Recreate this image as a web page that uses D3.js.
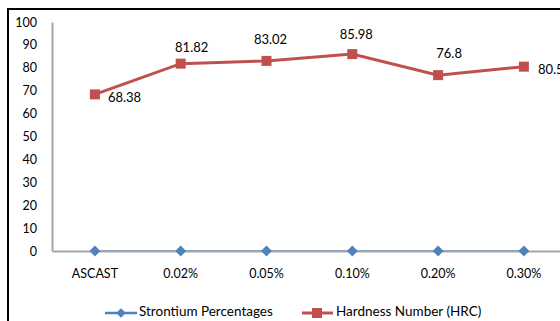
<!DOCTYPE html>
<html><head><meta charset="utf-8">
<script src="https://cdn.jsdelivr.net/npm/d3@7"></script>
<style>
html,body{margin:0;padding:0;background:#fff;}
svg{display:block;font-family:Lato, "Noto Sans", sans-serif;}
</style></head>
<body><svg id="c" width="560" height="321"></svg>
<script>
const categories = ["ASCAST","0.02%","0.05%","0.10%","0.20%","0.30%"];
const strontium = [0,0,0,0,0,0];
const hardness = [68.38,81.82,83.02,85.98,76.8,80.5];
const hardnessLabels = ["68.38","81.82","83.02","85.98","76.8","80.5"];
const yTicks = [0,10,20,30,40,50,60,70,80,90,100];
const seriesNames = ["Strontium Percentages","Hardness Number (HRC)"];

// label placement style: [dx, dy] relative to point
const labelOffsets = [[13,4],[11,-15],[4,-20],[4,-18],[11,-20],[14,4]];

const svg = d3.select("#c");
const blue = "#4F81BD", red = "#C0504D";
const FONT = "Lato, 'Noto Sans', sans-serif";

// outer border
svg.append("path").attr("d","M8,321 L8,9 L560,9").attr("fill","none").attr("stroke","#000").attr("stroke-width",2);

const x = d3.scaleBand().domain(categories).range([52, 52+6*85.8]).paddingInner(0).paddingOuter(0);
const y = d3.scaleLinear().domain([0,100]).range([251,22]);
const cx = d => x(d) + x.bandwidth()/2;

// strontium series line (beneath axis)
const line = d3.line();
svg.append("path").attr("d", line(categories.map((c,i)=>[cx(c), y(strontium[i])])))
  .attr("fill","none").attr("stroke",blue).attr("stroke-width",1.5);

// y axis
const yAxis = svg.append("g").attr("transform","translate(52,0)")
  .call(d3.axisLeft(y).tickValues(yTicks).tickSize(0).tickPadding(15));
yAxis.select(".domain").attr("stroke","#A6A6A6").attr("stroke-width",2);
yAxis.selectAll("text").attr("font-size",12.5).attr("fill","#000").attr("font-family",FONT);

// x axis
const xAxis = svg.append("g").attr("transform","translate(0,251)")
  .call(d3.axisBottom(x).tickSize(0).tickPadding(18));
xAxis.select(".domain").attr("stroke","#A6A6A6").attr("stroke-width",2);
xAxis.selectAll("text").attr("font-size",12.5).attr("fill","#000").attr("font-family",FONT);

svg.selectAll(".dia").data(categories).enter().append("path")
  .attr("d", d3.symbol().type(d3.symbolDiamond2).size(75)())
  .attr("transform",(c,i)=>`translate(${cx(c)},${y(strontium[i])})`)
  .attr("fill",blue);

// hardness series
svg.append("path").attr("d", line(categories.map((c,i)=>[cx(c), y(hardness[i])])))
  .attr("fill","none").attr("stroke",red).attr("stroke-width",3);
svg.selectAll(".sq").data(categories).enter().append("rect")
  .attr("x",c=>cx(c)-5).attr("y",(c,i)=>y(hardness[i])-5)
  .attr("width",10).attr("height",10).attr("fill",red);

svg.selectAll(".lbl").data(categories).enter().append("text")
  .attr("x",(c,i)=>cx(c)+labelOffsets[i][0])
  .attr("y",(c,i)=>y(hardness[i])+labelOffsets[i][1])
  .attr("text-anchor",(c,i)=> (i===0||i===5)?"start":"middle")
  .attr("dominant-baseline","middle")
  .attr("font-size",13).attr("fill","#000")
  .text((c,i)=>hardnessLabels[i]);

// legend
const lg = svg.append("g").attr("transform","translate(0,313)");
lg.append("line").attr("x1",105).attr("x2",137).attr("y1",0).attr("y2",0).attr("stroke",blue).attr("stroke-width",2.5);
lg.append("path").attr("d", d3.symbol().type(d3.symbolDiamond2).size(60)()).attr("transform","translate(121,0)").attr("fill",blue);
lg.append("text").attr("x",139).attr("y",0).attr("dominant-baseline","middle").attr("font-size",13.5).text(seriesNames[0]);
lg.append("line").attr("x1",302).attr("x2",333).attr("y1",0).attr("y2",0).attr("stroke",red).attr("stroke-width",3);
lg.append("rect").attr("x",312).attr("y",-5).attr("width",10).attr("height",10).attr("fill",red);
lg.append("text").attr("x",336).attr("y",0).attr("dominant-baseline","middle").attr("font-size",13.5).text(seriesNames[1]);
</script></body></html>
